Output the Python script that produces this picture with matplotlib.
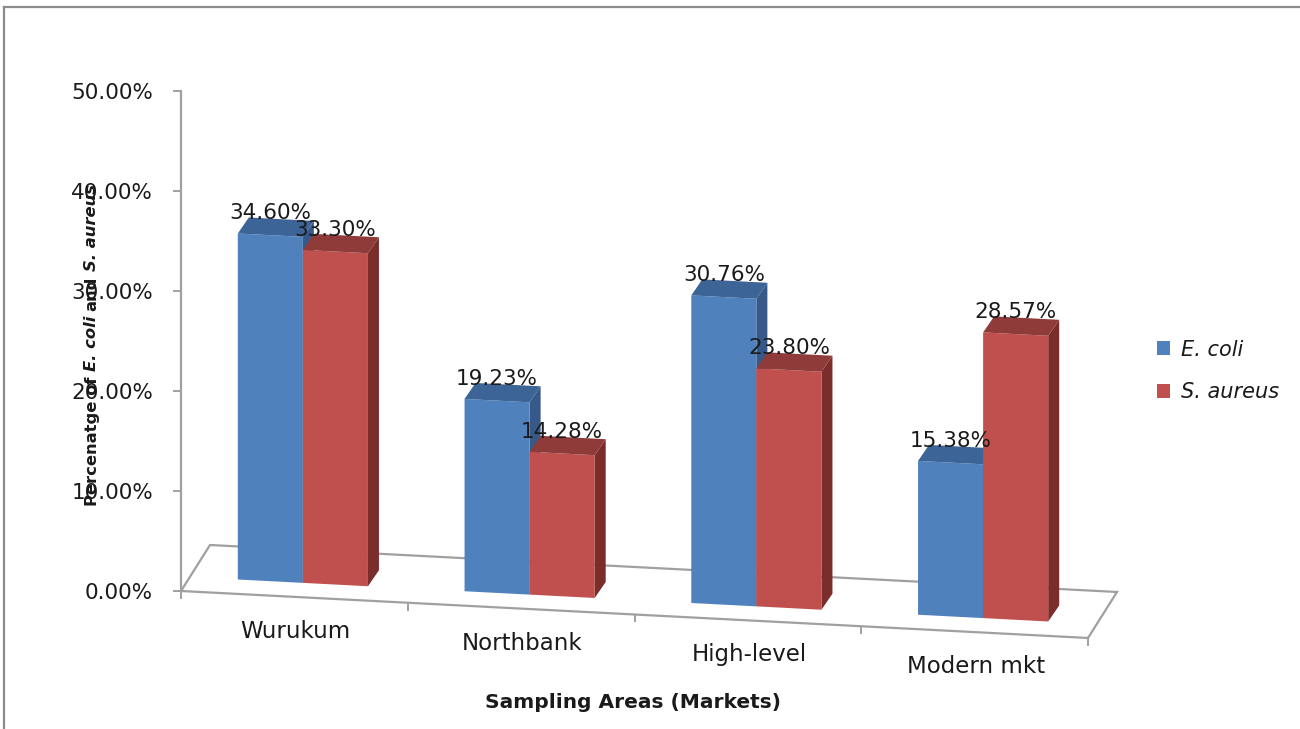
import matplotlib
matplotlib.use("Agg")
import matplotlib.pyplot as plt
import matplotlib.transforms as mtransforms
from matplotlib.patches import Polygon
from matplotlib.lines import Line2D
import numpy as np

# ---------------- data ----------------
categories = ["Wurukum", "Northbank", "High-level", "Modern mkt"]
ecoli = [34.60, 19.23, 30.76, 15.38]
saureus = [33.30, 14.28, 23.80, 28.57]
series_names = ["E. coli", "S. aureus"]
yticks = [0, 10, 20, 30, 40, 50]
ytick_labels = ["0.00%", "10.00%", "20.00%", "30.00%", "40.00%", "50.00%"]
xlabel = "Sampling Areas (Markets)"
ylabel_parts = [("Percenatge of", "normal"), ("E. coli", "italic"),
                ("and", "normal"), ("S. aureus", "italic")]

# ---------------- style ----------------
W, H = 1300, 729
DPI = 100
blue_front, blue_top, blue_side = "#4F81BD", "#3C6496", "#36598A"
red_front, red_top, red_side = "#C0504D", "#8E3B39", "#7A2D2B"
grid_gray = "#A0A0A0"
txt_color = "#1A1A1A"
FONT = "DejaVu Sans"

fig = plt.figure(figsize=(W / DPI, H / DPI), dpi=DPI)
fig.patch.set_facecolor("white")

# axes: x = category index (0..4), y = percent (0..50)
ax_left, ax_bottom_px, ax_w_px, ax_top_px = 181, 591, 907, 91
ax = fig.add_axes([ax_left / W, (H - ax_bottom_px) / H, ax_w_px / W,
                   (ax_bottom_px - ax_top_px) / H])
ax.set_xlim(0, 4)
ax.set_ylim(0, 50)
ax.set_facecolor("none")
for s in ["top", "right", "bottom"]:
    ax.spines[s].set_visible(False)
ax.spines["left"].set_color(grid_gray)
ax.spines["left"].set_linewidth(1.6)
ax.set_xticks([])
ax.set_yticks(yticks)
ax.set_yticklabels(ytick_labels, fontsize=15.5, family=FONT, color=txt_color)
ax.tick_params(axis="y", length=6, width=1.4, color=grid_gray, pad=14)

ppu = ax.bbox.width / 4.0      # pixels per category unit
ppv = ax.bbox.height / 50.0    # pixels per percent

# perspective-like shear of the floor (front line slopes down to the right)
slope_px = 0.0518
k = -slope_px * ppu / ppv      # data shear: v' = v + k*u
shear = mtransforms.Affine2D(np.array([[1, 0, 0], [k, 1, 0], [0, 0, 1]]))


def off(dx, dy):
    # offset in image pixels (dy positive = downward)
    return mtransforms.ScaledTranslation(dx / DPI, -dy / DPI, fig.dpi_scale_trans)


def depth(dx_px, dy_px):
    # convert an image-pixel offset into pre-shear data deltas
    du = dx_px / ppu
    dv = (-dy_px) / ppv - k * du
    return du, dv


T_base = shear + ax.transData
bar_set_dx, bar_set_dy = 8.5, -14
T_face = T_base + off(bar_set_dx, bar_set_dy)

# ---------------- floor ----------------
fdu, fdv = depth(29, -46)
floor = Polygon([(0, 0), (4, 0), (4 + fdu, fdv), (0 + fdu, fdv)], closed=True,
                fill=False, edgecolor=grid_gray, linewidth=1.6,
                transform=T_base, clip_on=False, zorder=1)
ax.add_patch(floor)
ax.plot(np.arange(5), np.zeros(5), ls="none", marker=3, ms=6, mew=1.4,
        color=grid_gray, transform=T_base, clip_on=False, zorder=1)

# ---------------- bars ----------------
bw = 0.287
x = np.arange(len(categories))
centers = x + 0.5
bdu, bdv = depth(11, -16)

blue_bars = ax.bar(centers - bw, ecoli, width=bw, align="edge", color=blue_front,
                   linewidth=0, transform=T_face, clip_on=False, zorder=3)
red_bars = ax.bar(centers, saureus, width=bw, align="edge", color=red_front,
                  linewidth=0, transform=T_face, clip_on=False, zorder=5)


def add_faces(lefts, vals, top_c, side_c, z):
    for u0, v in zip(lefts, vals):
        u1 = u0 + bw
        top = Polygon([(u0, v), (u1, v), (u1 + bdu, v + bdv), (u0 + bdu, v + bdv)],
                      closed=True, facecolor=top_c, edgecolor="none",
                      transform=T_face, clip_on=False, zorder=z)
        side = Polygon([(u1, 0), (u1, v), (u1 + bdu, v + bdv), (u1 + bdu, bdv)],
                       closed=True, facecolor=side_c, edgecolor="none",
                       transform=T_face, clip_on=False, zorder=z - 1)
        ax.add_patch(top)
        ax.add_patch(side)


add_faces(centers - bw, ecoli, blue_top, blue_side, 3)
add_faces(centers, saureus, red_top, red_side, 5)

# value labels
T_lab = T_base + off(bar_set_dx, bar_set_dy - 16)
for lefts, vals in ((centers - bw, ecoli), (centers, saureus)):
    for u0, v in zip(lefts, vals):
        ax.text(u0 + bw / 2, v, f"{v:.2f}%", ha="center", va="baseline",
                fontsize=15.5, family=FONT, color=txt_color,
                transform=T_lab, clip_on=False, zorder=10)

# category labels
T_cat = T_base + off(1, 41)
for c, name in zip(centers, categories):
    ax.text(c, 0, name, ha="center", va="baseline", fontsize=16.5, family=FONT,
            color=txt_color, transform=T_cat, clip_on=False, zorder=10)

# axis title
fig.text(633 / W, 1 - 703 / H, xlabel, ha="center", va="center", fontsize=14.5,
         fontweight="bold", family=FONT, color=txt_color)

# y label built from pieces (mixed italic)
fig.canvas.draw()
renderer = fig.canvas.get_renderer()
yl_x = 92 / W
texts = []
for s, style in ylabel_parts:
    t = fig.text(yl_x, 0.5, s, rotation=90, ha="center", va="bottom",
                 fontsize=11.8, fontweight="bold", style=style, family=FONT,
                 color=txt_color)
    texts.append(t)
gap = 5
heights = [t.get_window_extent(renderer).height for t in texts]
total = sum(heights) + gap * (len(texts) - 1)
y_start = (H - 345) - total / 2   # display pixel (from bottom)
cur = y_start
for t, h in zip(texts, heights):
    t.set_y(cur / H)
    cur += h + gap

# legend
leg = fig.legend(handles=[blue_bars, red_bars], labels=series_names,
                 loc="center left", bbox_to_anchor=(1138 / W, 1 - 371 / H),
                 frameon=False, prop={"family": FONT, "style": "italic", "size": 15},
                 handlelength=0.65, handleheight=0.65, handletextpad=0.5,
                 labelspacing=1.1)
for txt in leg.get_texts():
    txt.set_color(txt_color)

# outer frame (top and left edges visible)
fig.add_artist(Line2D([4 / W, 1], [1 - 7 / H, 1 - 7 / H], color="#8C8C8C", lw=1.6,
                      transform=fig.transFigure))
fig.add_artist(Line2D([4 / W, 4 / W], [0, 1 - 7 / H], color="#8C8C8C", lw=1.6,
                      transform=fig.transFigure))

fig.savefig("out.png", dpi=DPI, facecolor="white")
